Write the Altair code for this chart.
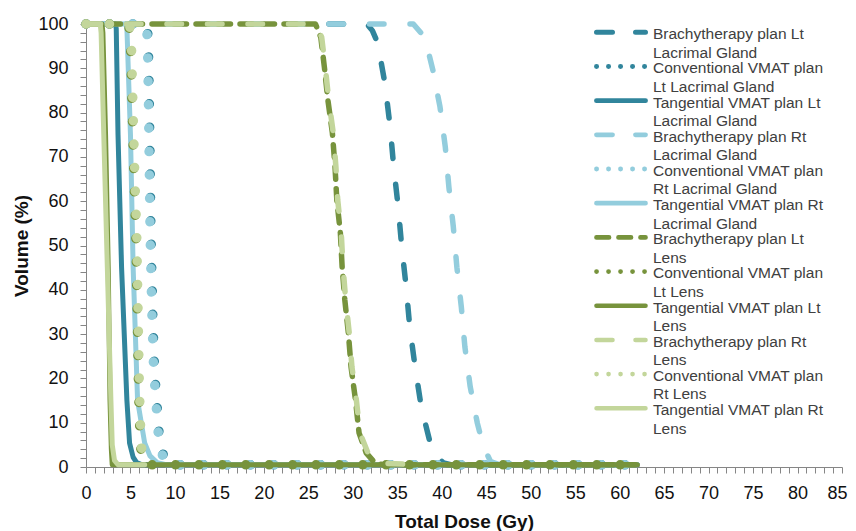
import altair as alt
import pandas as pd

# ---- data: (total dose in Gy, volume in %) ----
brachy_lt_lacrimal = [(0, 100), (31.6, 100), (32.2, 98.5), (32.8, 95.7), (33.6, 86.7), (34.2, 76.7),
                      (34.6, 67.7), (35.1, 58.7), (35.5, 49.7), (36.0, 40.6), (36.4, 31.6), (37.0, 22.6),
                      (37.7, 13.5), (38.7, 5.4), (39.3, 2.7), (40.2, 0.9), (41.0, 0.5), (62.0, 0.5)]
conv_lt_lacrimal = [(0, 100), (6.8, 100), (7.0, 97), (7.1, 85), (7.2, 70), (7.3, 53), (7.5, 35),
                    (7.7, 22), (8.2, 8), (8.8, 1.5), (9.6, 0.5), (62.0, 0.5)]
tang_lt_lacrimal = [(0, 100), (3.3, 100), (3.4, 99), (3.6, 75), (4.0, 45), (4.6, 15), (4.9, 5.4),
                    (5.3, 2.2), (5.7, 1), (6.3, 0.5), (62.0, 0.5)]
brachy_rt_lacrimal = [(0, 100), (36.8, 100), (38.1, 97), (39.0, 89.6), (39.8, 81.3), (40.4, 72.2),
                      (40.8, 63.2), (41.3, 54.2), (41.7, 45.1), (42.2, 36.1), (42.6, 27.1), (43.2, 18.1),
                      (44.0, 9.9), (44.7, 4.5), (45.5, 1.2), (46.5, 0.5), (62.0, 0.5)]
conv_rt_lacrimal = [(0, 100), (6.7, 100), (6.9, 97), (7.0, 85), (7.1, 70), (7.2, 53), (7.4, 35),
                    (7.6, 22), (8.1, 8), (8.7, 1.5), (9.5, 0.5), (62.0, 0.5)]
tang_rt_lacrimal = [(0, 100), (4.5, 100), (4.6, 99), (5.0, 75), (5.3, 45), (5.8, 15), (6.6, 5.4),
                    (7.2, 2.5), (8.0, 1), (9.0, 0.5), (62.0, 0.5)]
brachy_lt_lens = [(0, 100), (25.8, 100), (26.4, 97), (26.8, 90.3), (27.2, 82.8), (27.7, 75.4),
                  (28.0, 67.7), (28.2, 60.3), (28.6, 52.8), (28.8, 45.1), (29.1, 37.7), (29.5, 30.2),
                  (29.8, 22.6), (30.3, 15.1), (30.7, 7.7), (31.5, 3.2), (32.5, 0.9), (33.5, 0.5), (62.0, 0.5)]
conv_lt_lens = [(0, 100), (4.8, 100), (5.0, 96), (5.2, 80), (5.4, 65), (5.6, 53), (5.8, 30),
                (5.9, 18), (6.1, 5), (6.4, 1), (6.9, 0.5), (62.0, 0.5)]
tang_lt_lens = [(0, 100), (1.8, 100), (1.9, 98), (2.2, 75), (2.5, 45), (2.7, 15), (2.85, 4),
                (2.95, 0.5), (62.0, 0.5)]
brachy_rt_lens = [(0, 100), (25.9, 100), (26.5, 97), (26.9, 90.3), (27.3, 82.8), (27.8, 75.4),
                  (28.1, 67.7), (28.3, 60.3), (28.7, 52.8), (28.9, 45.1), (29.2, 37.7), (29.6, 30.2),
                  (29.9, 22.6), (30.4, 15.1), (30.8, 7.7), (31.7, 3.2), (32.7, 0.9), (37.7, 0.5)]
conv_rt_lens = [(0, 100), (4.9, 100), (5.1, 96), (5.3, 80), (5.5, 65), (5.7, 53), (5.9, 30),
                (6.0, 18), (6.2, 5), (6.5, 1), (7.0, 0.5)]
tang_rt_lens = [(0, 100), (1.6, 100), (1.7, 98), (2.0, 75), (2.4, 45), (2.8, 15), (2.95, 5),
                (3.2, 1.5), (3.6, 0.5), (6.6, 0.5)]

series_names = [
    "Brachytherapy plan Lt Lacrimal Gland", "Conventional VMAT plan Lt Lacrimal Gland",
    "Tangential VMAT plan Lt Lacrimal Gland", "Brachytherapy plan Rt Lacrimal Gland",
    "Conventional VMAT plan Rt Lacrimal Gland", "Tangential VMAT plan Rt Lacrimal Gland",
    "Brachytherapy plan Lt Lens", "Conventional VMAT plan Lt Lens", "Tangential VMAT plan Lt Lens",
    "Brachytherapy plan Rt Lens", "Conventional VMAT plan Rt Lens", "Tangential VMAT plan Rt Lens",
]
legend_line1 = ["Brachytherapy plan Lt", "Conventional VMAT plan", "Tangential VMAT plan Lt",
                "Brachytherapy plan Rt", "Conventional VMAT plan", "Tangential VMAT plan Rt",
                "Brachytherapy plan Lt", "Conventional VMAT plan", "Tangential VMAT plan Lt",
                "Brachytherapy plan Rt", "Conventional VMAT plan", "Tangential VMAT plan Rt"]
legend_line2 = ["Lacrimal Gland", "Lt Lacrimal Gland", "Lacrimal Gland",
                "Lacrimal Gland", "Rt Lacrimal Gland", "Lacrimal Gland",
                "Lens", "Lt Lens", "Lens",
                "Lens", "Rt Lens", "Lens"]
series_points = [brachy_lt_lacrimal, conv_lt_lacrimal, tang_lt_lacrimal,
                 brachy_rt_lacrimal, conv_rt_lacrimal, tang_rt_lacrimal,
                 brachy_lt_lens, conv_lt_lens, tang_lt_lens,
                 brachy_rt_lens, conv_rt_lens, tang_rt_lens]

x_ticks = list(range(0, 86))
y_ticks = list(range(0, 101, 2))

# ---- styles ----
DARK_TEAL, LIGHT_BLUE, DARK_GREEN, LIGHT_GREEN = "#31859C", "#93CDDD", "#77933C", "#C3D69B"
colors = [DARK_TEAL] * 3 + [LIGHT_BLUE] * 3 + [DARK_GREEN] * 3 + [LIGHT_GREEN] * 3
LONG_DASH, SHORT_DASH, DOTS, SOLID = [14.5, 26], [12.5, 9.5], [0.1, 23.3], None
dashes = [LONG_DASH, DOTS, SOLID, LONG_DASH, DOTS, SOLID, SHORT_DASH, DOTS, SOLID, LONG_DASH, DOTS, SOLID]
widths = [5.5, 9.5, 5, 5.5, 9.5, 5, 5.5, 9.5, 5, 5.5, 9.5, 5]
legend_dashes = [[16, 23], [0.1, 11.9], [1, 0], [16, 23], [0.1, 11.9], [1, 0],
                 [12.5, 9.5], [0.1, 11.9], [1, 0], [16, 23], [0.1, 11.9], [1, 0]]
legend_widths = [5, 4.5, 6, 5, 4.5, 6, 5, 4.5, 6, 5, 4.5, 6]

rows = []
for name, pts in zip(series_names, series_points):
    for i, (d, v) in enumerate(pts):
        rows.append({"series": name, "dose": d, "volume": v, "idx": i})
df = pd.DataFrame(rows)

legend_df = pd.DataFrame({"name": series_names, "line1": legend_line1, "line2": legend_line2})

FONT = "Liberation Sans"
x_axis = alt.Axis(values=x_ticks, labelExpr="datum.value % 5 === 0 ? datum.label : ''",
                  title="Total Dose (Gy)", tickSize=6, labelPadding=11,
                  titleY=60, titleBaseline="alphabetic",
                  labelAlign={"condition": {"test": "datum.value === 85", "value": "right"}, "value": "center"},
                  labelOffset={"condition": {"test": "datum.value === 85", "value": 5}, "value": 0},
                  labelOverlap=False, labelFlush=False, grid=False)
y_axis = alt.Axis(values=y_ticks, labelExpr="datum.value % 10 === 0 ? datum.label : ''",
                  title="Volume (%)", tickSize=6, labelPadding=12, titlePadding=6,
                  labelOverlap=False, labelFlush=False, grid=False)

line_layers = []
for name, col, dash, w in zip(series_names, colors, dashes, widths):
    mark_kwargs = dict(color=col, strokeWidth=w, strokeCap="round", strokeJoin="round")
    if dash is not None:
        mark_kwargs["strokeDash"] = dash
    line_layers.append(
        alt.Chart(df).transform_filter(alt.datum.series == name).mark_line(**mark_kwargs).encode(
            x=alt.X("dose:Q", scale=alt.Scale(domain=[0, 85], nice=False), axis=x_axis),
            y=alt.Y("volume:Q", scale=alt.Scale(domain=[0, 100], nice=False), axis=y_axis),
            order="idx:Q",
        )
    )
lines = alt.layer(*line_layers)

leg_y = alt.Y("name:N", sort=series_names, axis=None,
              scale=alt.Scale(type="point", domain=series_names, range=[8.3, 384.3], padding=0))
leg_base = alt.Chart(legend_df)
leg_sym = leg_base.mark_rule(strokeCap="round").encode(
    x=alt.value(510.5), x2=alt.value(559.5), y=leg_y,
    color=alt.Color("name:N", scale=alt.Scale(domain=series_names, range=colors), legend=None),
    strokeDash=alt.StrokeDash("name:N", scale=alt.Scale(domain=series_names, range=legend_dashes), legend=None),
    strokeWidth=alt.StrokeWidth("name:N", scale=alt.Scale(domain=series_names, range=legend_widths), legend=None),
)
leg_t1 = leg_base.mark_text(align="left", baseline="middle", dy=1.9, font=FONT, fontSize=15.5,
                            color="#404040").encode(x=alt.value(567), y=leg_y, text="line1:N")
leg_t2 = leg_base.mark_text(align="left", baseline="middle", dy=20.3, font=FONT, fontSize=15.5,
                            color="#404040").encode(x=alt.value(567), y=leg_y, text="line2:N")
legend = alt.layer(leg_sym, leg_t1, leg_t2)

chart = alt.layer(lines, legend).resolve_scale(y="independent").properties(
    width=756, height=443,
    autosize=alt.AutoSizeParams(type="none"),
    padding={"left": 78, "top": 16, "right": 6, "bottom": 64},
).configure_view(stroke=None).configure_axis(
    labelFont=FONT, labelFontSize=18, labelColor="#111111",
    titleFont=FONT, titleFontSize=19, titleFontWeight="bold", titleColor="#111111",
    domainColor="#868686", tickColor="#868686", domainWidth=1, tickWidth=1,
)

chart.save("out.html", embed_options={"renderer": "svg", "actions": False})
